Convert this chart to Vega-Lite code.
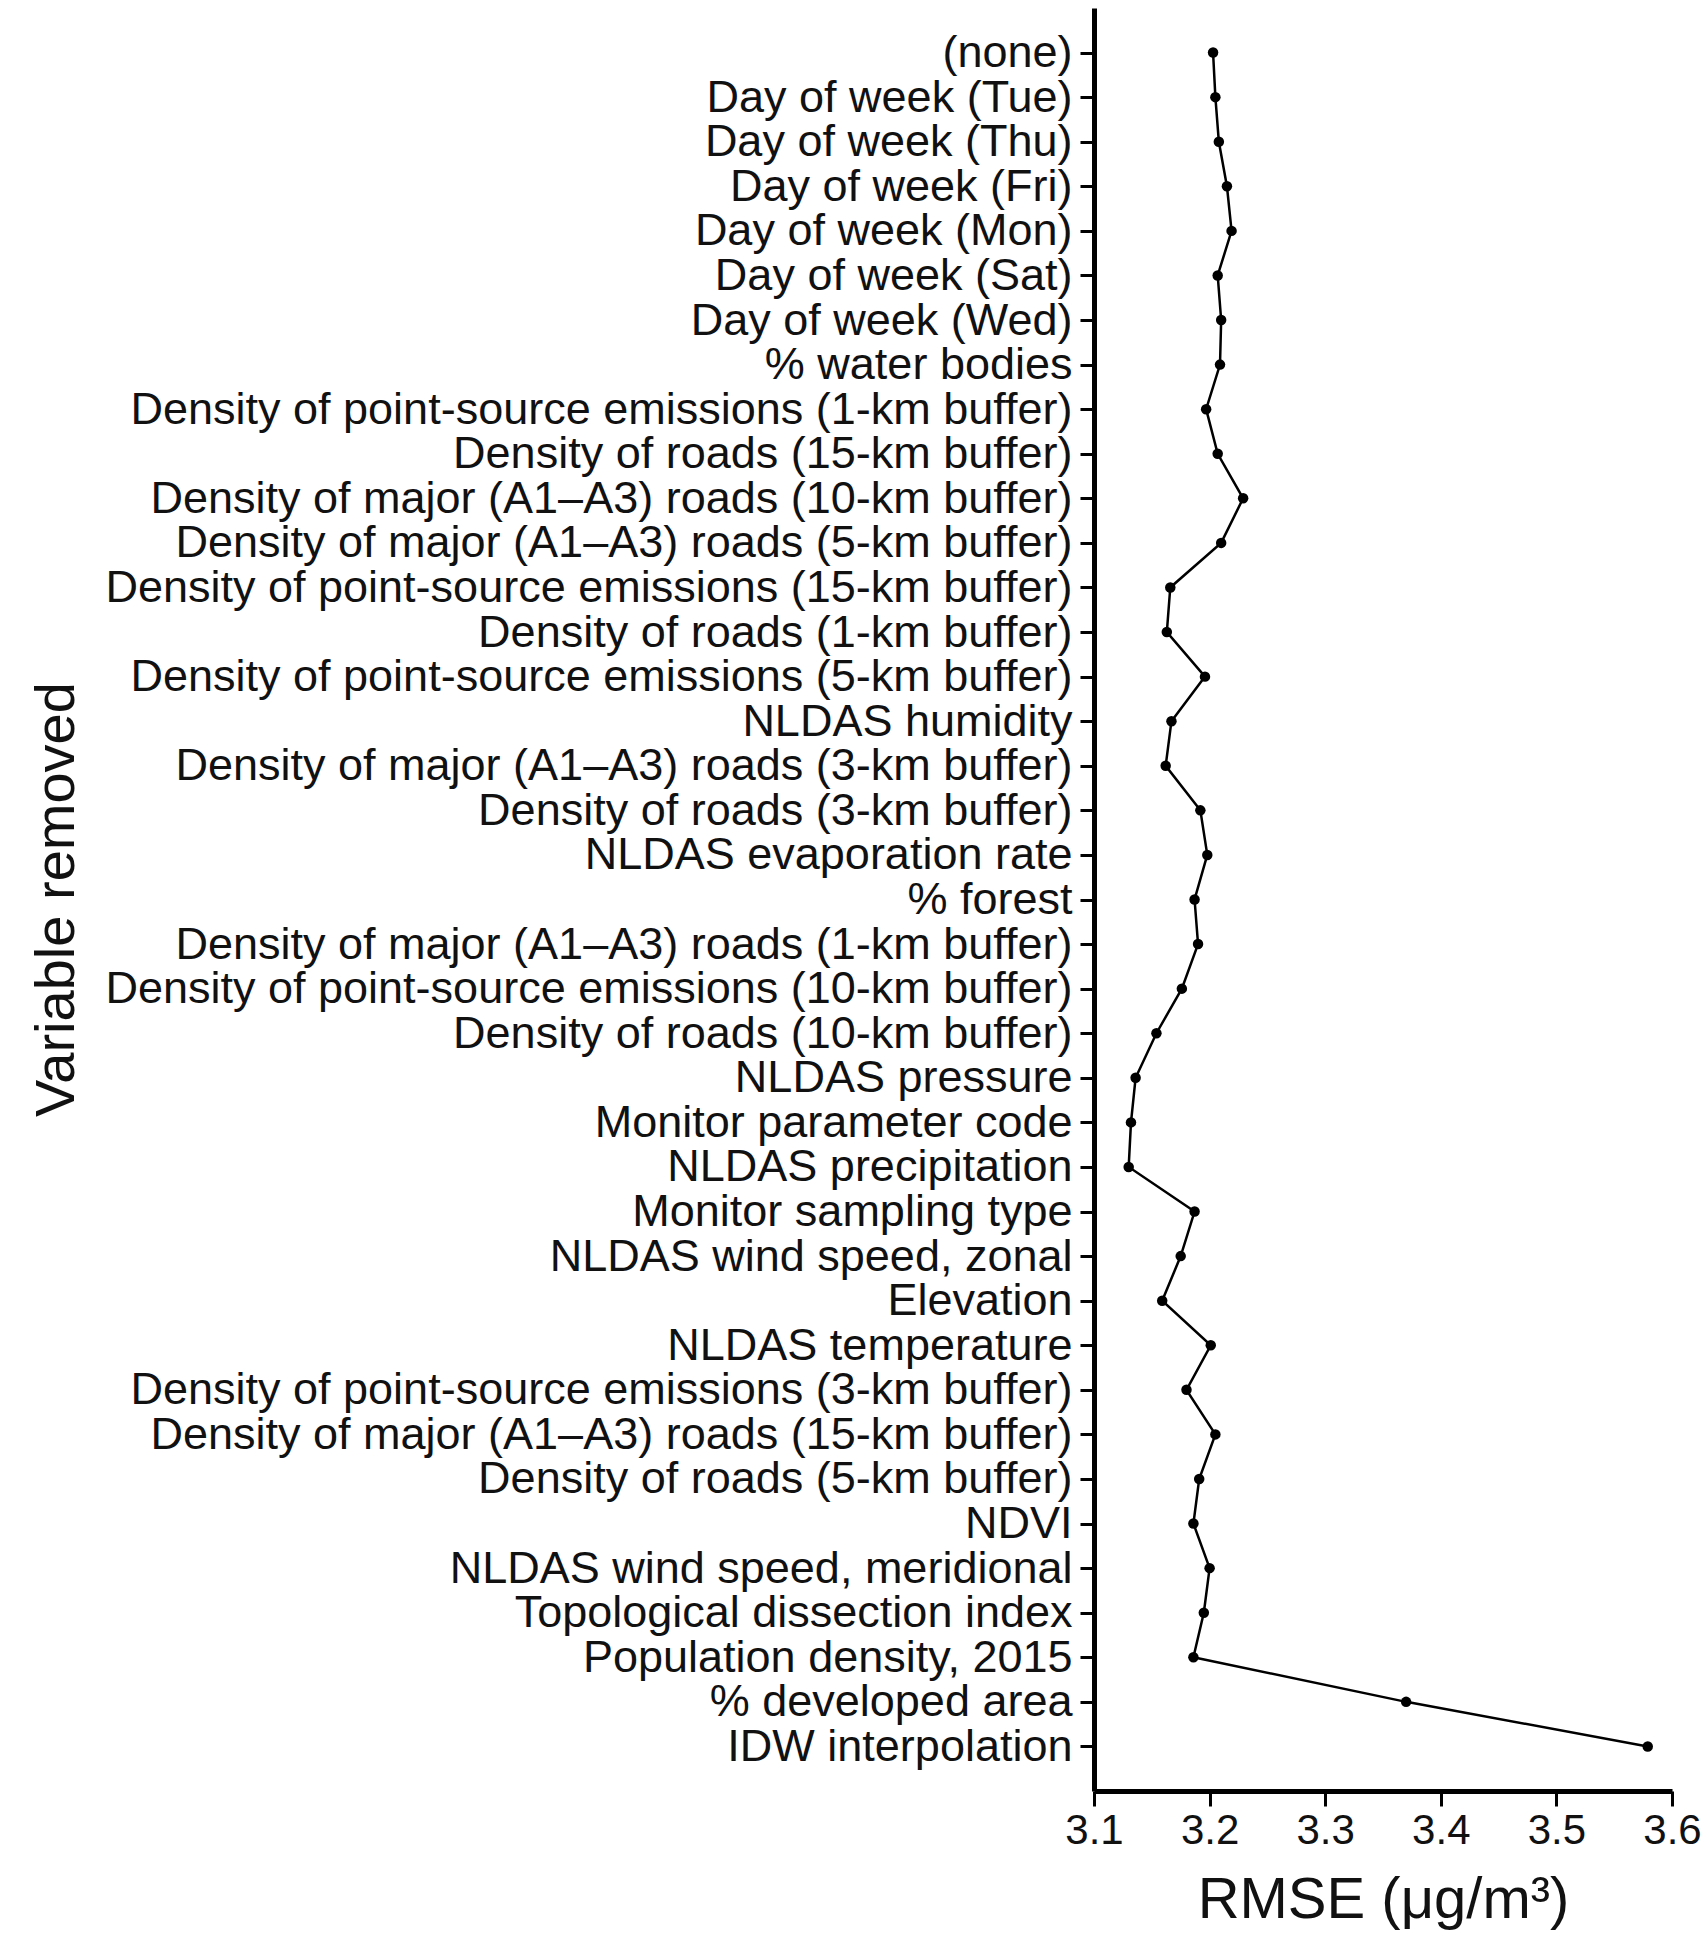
{
  "$schema": "https://vega.github.io/schema/vega-lite/v6.json",
  "autosize": {"type": "none"},
  "padding": {"left": 1094, "top": 8, "right": 34, "bottom": 159},
  "width": 578,
  "height": 1783,
  "background": "white",
  "config": {
    "view": {"stroke": null},
    "font": "Liberation Sans",
    "axis": {"grid": false, "domainColor": "black", "tickColor": "black", "labelColor": "#111", "titleColor": "#111", "labelFont": "Liberation Sans", "titleFont": "Liberation Sans", "titleFontWeight": "normal"}
  },
  "data": {"values": [
    {"o": 1, "v": "(none)", "rmse": 3.203},
    {"o": 2, "v": "Day of week (Tue)", "rmse": 3.205},
    {"o": 3, "v": "Day of week (Thu)", "rmse": 3.208},
    {"o": 4, "v": "Day of week (Fri)", "rmse": 3.215},
    {"o": 5, "v": "Day of week (Mon)", "rmse": 3.219},
    {"o": 6, "v": "Day of week (Sat)", "rmse": 3.207},
    {"o": 7, "v": "Day of week (Wed)", "rmse": 3.210},
    {"o": 8, "v": "% water bodies", "rmse": 3.209},
    {"o": 9, "v": "Density of point-source emissions (1-km buffer)", "rmse": 3.197},
    {"o": 10, "v": "Density of roads (15-km buffer)", "rmse": 3.207},
    {"o": 11, "v": "Density of major (A1–A3) roads (10-km buffer)", "rmse": 3.229},
    {"o": 12, "v": "Density of major (A1–A3) roads (5-km buffer)", "rmse": 3.210},
    {"o": 13, "v": "Density of point-source emissions (15-km buffer)", "rmse": 3.166},
    {"o": 14, "v": "Density of roads (1-km buffer)", "rmse": 3.163},
    {"o": 15, "v": "Density of point-source emissions (5-km buffer)", "rmse": 3.196},
    {"o": 16, "v": "NLDAS humidity", "rmse": 3.167},
    {"o": 17, "v": "Density of major (A1–A3) roads (3-km buffer)", "rmse": 3.162},
    {"o": 18, "v": "Density of roads (3-km buffer)", "rmse": 3.192},
    {"o": 19, "v": "NLDAS evaporation rate", "rmse": 3.198},
    {"o": 20, "v": "% forest", "rmse": 3.187},
    {"o": 21, "v": "Density of major (A1–A3) roads (1-km buffer)", "rmse": 3.190},
    {"o": 22, "v": "Density of point-source emissions (10-km buffer)", "rmse": 3.176},
    {"o": 23, "v": "Density of roads (10-km buffer)", "rmse": 3.154},
    {"o": 24, "v": "NLDAS pressure", "rmse": 3.136},
    {"o": 25, "v": "Monitor parameter code", "rmse": 3.132},
    {"o": 26, "v": "NLDAS precipitation", "rmse": 3.130},
    {"o": 27, "v": "Monitor sampling type", "rmse": 3.187},
    {"o": 28, "v": "NLDAS wind speed, zonal", "rmse": 3.175},
    {"o": 29, "v": "Elevation", "rmse": 3.159},
    {"o": 30, "v": "NLDAS temperature", "rmse": 3.201},
    {"o": 31, "v": "Density of point-source emissions (3-km buffer)", "rmse": 3.180},
    {"o": 32, "v": "Density of major (A1–A3) roads (15-km buffer)", "rmse": 3.205},
    {"o": 33, "v": "Density of roads (5-km buffer)", "rmse": 3.191},
    {"o": 34, "v": "NDVI", "rmse": 3.186},
    {"o": 35, "v": "NLDAS wind speed, meridional", "rmse": 3.200},
    {"o": 36, "v": "Topological dissection index", "rmse": 3.195},
    {"o": 37, "v": "Population density, 2015", "rmse": 3.186},
    {"o": 38, "v": "% developed area", "rmse": 3.370},
    {"o": 39, "v": "IDW interpolation", "rmse": 3.579}
  ]},
  "encoding": {
    "x": {"field": "rmse", "type": "quantitative", "title": "RMSE (μg/m³)",
      "scale": {"domain": [3.1, 3.6], "nice": false, "zero": false},
      "axis": {"values": [3.1, 3.2, 3.3, 3.4, 3.5, 3.6], "format": ".1f", "labelFontSize": 42, "titleFontSize": 58, "domainWidth": 5, "tickWidth": 3, "tickSize": 15, "labelPadding": 4, "titlePadding": 20, "labelFlush": false}},
    "y": {"field": "v", "type": "nominal", "sort": {"field": "o", "order": "ascending"}, "title": "Variable removed",
      "scale": {"type": "point", "padding": 1},
      "axis": {"labelFontSize": 45, "titleFontSize": 56, "domainWidth": 5, "tickWidth": 3, "tickSize": 14, "labelPadding": 8, "labelLimit": 2000, "titleX": -1038, "titleY": 891, "titleAngle": -90, "titleAlign": "center", "titleBaseline": "middle"}}
  },
  "layer": [
    {"mark": {"type": "line", "color": "black", "strokeWidth": 2.5}, "encoding": {"order": {"field": "o", "type": "quantitative"}}},
    {"mark": {"type": "point", "filled": true, "color": "black", "size": 110, "opacity": 1}}
  ]
}
